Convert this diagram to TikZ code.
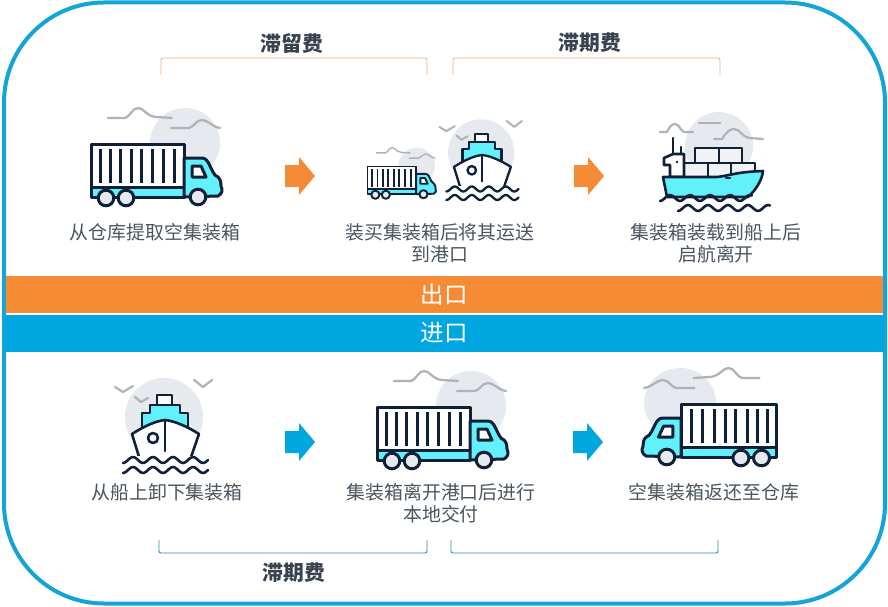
\documentclass[tikz,border=0pt]{standalone}
\usepackage{fontspec}
\setmainfont{Noto Sans CJK SC}
\definecolor{navy}{HTML}{0F2138}
\definecolor{aqua}{HTML}{62F0FB}
\definecolor{sunc}{HTML}{E6E9EE}
\definecolor{cloudc}{HTML}{AEB3B9}
\definecolor{frameb}{HTML}{14A5D6}
\definecolor{orangeb}{HTML}{F68B35}
\definecolor{blueb}{HTML}{00A6E0}
\definecolor{txt}{HTML}{4A5560}
\definecolor{ttl}{HTML}{38434F}
\tikzset{
  ink/.style={draw=navy,line join=round,line cap=round},
  cloudline/.style={draw=cloudc,line cap=round,line join=round,line width=2.2pt},
  captext/.style={text=txt,font=\fontsize{18.9}{22}\selectfont,inner sep=0pt,anchor=center},
  feetitle/.style={text=ttl,font=\fontsize{20.8}{24}\selectfont\bfseries,inner sep=0pt,anchor=center},
  bandtext/.style={text=white,font=\fontsize{23.5}{26}\selectfont,inner sep=0pt,anchor=center},
  bracketo/.style={draw=orangeb!70!white,line width=.9pt,rounded corners=2pt},
  bracketb/.style={draw=blueb!75!black!85!white,line width=.9pt,rounded corners=2pt},
}
% truck drawn in its native place, moved to (X,Y) with scale
\newcommand{\truckicon}[5]{%
\begin{scope}[shift={(#1,#2)},yscale=#3,xscale=#4]\begin{scope}[shift={(-90,-143)},line width=#5pt]
 \fill[sunc] (185,143) circle (35);
 \draw[cloudline,line width=#5pt*.75] (108,118) -- (125,118) .. controls (130,117) and (132,108) .. (138,108) .. controls (144,108) and (146,116) .. (156,117) -- (172,118);
 \draw[cloudline,line width=#5pt*.75] (171,128) -- (189,128) .. controls (194,127) and (196,120) .. (202,120) .. controls (208,120) and (212,127) .. (220,128);
 \draw[ink,fill=aqua] (91,144) rectangle (184,197);
 \draw[ink,fill=white] (91,144) rectangle (184,187);
 \foreach \bx in {100,110,120,131,141,152,163,174} \draw[navy] (\bx,149) -- (\bx,183);
 \draw[ink,fill=aqua] (184,158) -- (201,158) .. controls (205,158) and (207,160) .. (208,162) -- (213,172) .. controls (214,175) and (216,176) .. (218,177) .. controls (221,180) and (221,183) .. (221,186) .. controls (223,190) and (222,194) .. (218,196) -- (184,197) -- cycle;
 \draw[ink,fill=white] (192,166) -- (201,166) -- (206,177) -- (192,177) -- cycle;
 \draw[ink,fill=sunc] (106,198) circle (7.8);
 \draw[ink,fill=sunc] (126,198) circle (7.8);
 \draw[ink,fill=sunc] (198,197) circle (7.8);
\end{scope}\end{scope}}
% waves
\newcommand{\wavy}[3]{\draw[ink] plot[smooth,domain=0:#2-#1,samples=45] ({#1+\x},{#3+3*cos(18*\x)});}
% passenger-like ship
\newcommand{\shipicon}[4]{%
\begin{scope}[shift={(#1,#2)},scale=#3]\begin{scope}[shift={(-165,-420)},line width=#4pt]
 \fill[sunc] (164,417) circle (39);
 \draw[cloudline,line width=#4pt*.85] (115,387) -- (123,392) -- (133,386);
 \draw[cloudline,line width=#4pt*.85] (135,397) -- (141,402) -- (148,398);
 \draw[cloudline,line width=#4pt*.85] (194,380) -- (203,387) -- (212,380);
 \draw[ink,fill=white] (157,395) rectangle (172,405);
 \draw[ink,fill=aqua] (142,432) -- (142,413) -- (150,413) -- (150,405) -- (180,405) -- (180,413) -- (188,413) -- (188,432) -- cycle;
 \draw[ink,fill=white] (132,434) .. controls (143,427) and (155,421) .. (165,420) .. controls (175,421) and (188,427) .. (199,434) -- (190,460) -- (140,460) -- cycle;
 \draw[ink] (165,420) -- (165,451);
 \draw[ink] (153,438) circle (5);
 \fill[white] (120,456) rectangle (210,476);
 \wavy{123}{208}{460}
 \wavy{123}{208}{470}
\end{scope}\end{scope}}
\begin{document}
\begin{tikzpicture}[x=1pt,y=-1pt]
\useasboundingbox (0,0) rectangle (888,607);
\fill[white] (0,0) rectangle (888,607);
\draw[frameb,line width=4pt,rounded corners=100pt] (4,2.5) rectangle (885,603.5);

% bands
\fill[orangeb] (6,276) rectangle (883,313);
\fill[blueb] (5,315) rectangle (884,352);
\node[bandtext] (chu) at (444,295) {出口};
\node[bandtext] (jin) at (444,333) {进口};

% brackets
\coordinate (b1a) at (161,75); \coordinate (b1b) at (427,75);
\draw[bracketo] (b1a) -- (161,58) -- (427,58) -- (b1b);
\coordinate (b2a) at (453,75); \coordinate (b2b) at (720,75);
\draw[bracketo] (b2a) -- (453,58) -- (720,58) -- (b2b);
\coordinate (b3a) at (159,540); \coordinate (b3b) at (427,540);
\draw[bracketb] (b3a) -- (159,553) -- (427,553) -- (b3b);
\coordinate (b4a) at (451,540); \coordinate (b4b) at (718,540);
\draw[bracketb] (b4a) -- (451,553) -- (718,553) -- (b4b);

\node[feetitle] (t1) at (292,44) {滞留费};
\node[feetitle] (t2) at (590,43) {滞期费};
\node[feetitle] (t3) at (294,573) {滞期费};

% block arrows
\foreach \ax/\ay/\ac in {285/176/orangeb,574/176/orangeb,285/442/blueb,573/442/blueb}
  \fill[\ac] (\ax,\ay-11) -- (\ax+14,\ay-11) -- (\ax+14,\ay-19) -- (\ax+30,\ay) -- (\ax+14,\ay+19) -- (\ax+14,\ay+11) -- (\ax,\ay+11) -- cycle;

% trucks
\truckicon{90}{143}{1}{1}{3}
\truckicon{367}{166}{.523}{.523}{1.9}
\truckicon{376}{406}{1}{1}{3}
\truckicon{778}{403}{1}{-1.03}{3}

% ships
\shipicon{482}{155}{.85}{2.3}
\shipicon{165}{420}{1}{2.6}

% cargo ship
\begin{scope}[line width=2.6pt]
 \fill[sunc] (719,146) circle (34);
 \draw[cloudline] (660,132) -- (667,132) .. controls (670,126) and (672,124) .. (675,124) .. controls (679,124) and (680,130) .. (684,132) -- (693,132);
 \draw[cloudline] (699,123) -- (720,123);
 \draw[cloudline] (714,139) -- (722,139) .. controls (726,133) and (729,129) .. (734,129) .. controls (740,129) and (741,136) .. (749,138) -- (763,139);
 \draw[ink,line width=2.4pt] (673,138) -- (673,153);
 \draw[ink,line width=2.4pt] (681,147) -- (681,153);
 \draw[ink,fill=sunc!60!white] (695,148) rectangle (719,163);
 \draw[ink,fill=sunc!60!white] (719,148) rectangle (742,163);
 \draw[ink,fill=sunc!60!white] (684,163) rectangle (708,177);
 \draw[ink,fill=sunc!60!white] (708,163) rectangle (731,177);
 \draw[ink,fill=sunc!60!white] (731,163) rectangle (755,177);
 \draw[ink,fill=white] (664,158) -- (673,154) -- (684,154) -- (684,177) -- (670,177) -- (670,165) -- (664,165) -- cycle;
 \fill[navy] (677,162) circle (1.3);
 \draw[ink,fill=aqua] (663,177) -- (717,177) .. controls (728,176) and (735,172) .. (763,171) .. controls (762,180) and (756,190) .. (748,197) -- (667,197) -- cycle;
 \draw[ink] (726,178) -- (730,178);
 \wavy{660}{752}{198}
 \wavy{678}{770}{208}
\end{scope}

% captions
\node[captext] (c1) at (155,232) {从仓库提取空集装箱};
\node[captext] (c2) at (440,232) {装买集装箱后将其运送};
\node[captext] (c2b) at (440,254) {到港口};
\node[captext] (c3) at (716,232) {集装箱装载到船上后};
\node[captext] (c3b) at (716,254) {启航离开};
\node[captext] (c4) at (167,492) {从船上卸下集装箱};
\node[captext] (c5) at (441,492) {集装箱离开港口后进行};
\node[captext] (c5b) at (441,514) {本地交付};
\node[captext] (c6) at (714,492) {空集装箱返还至仓库};
\end{tikzpicture}
\end{document}
